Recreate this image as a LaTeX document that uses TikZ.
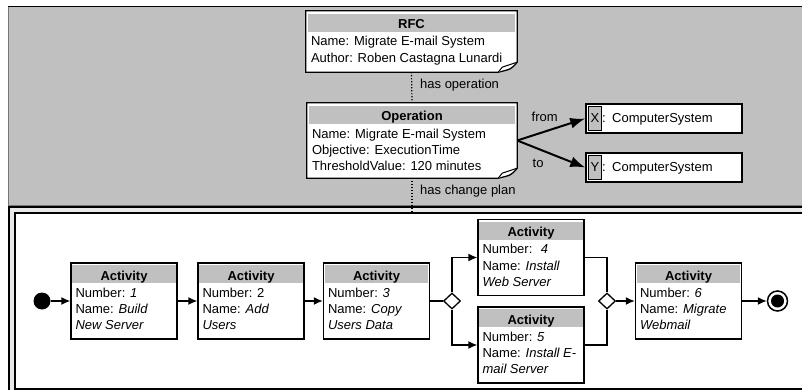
\documentclass[tikz,border=0pt]{standalone}
\usepackage{fontspec}
\setmainfont{Liberation Sans}
\usetikzlibrary{shapes.geometric,arrows.meta,calc}

\definecolor{panelgray}{RGB}{192,192,192}
\definecolor{framegray}{RGB}{232,232,232}
\definecolor{hdrgray}{RGB}{192,192,192}
\definecolor{edgegray}{RGB}{120,120,120}

% fixed first-line height so every text block starts on a known baseline
\newcommand\firstline{\rule{0pt}{10pt}}
% grey-boxed role letter in front of an instance name
\newcommand\rolemark[1]{{\setlength\fboxsep{1.5pt}\setlength\fboxrule{1.2pt}%
  \fcolorbox{black}{hdrgray}{\rule[-5.5pt]{0pt}{19.5pt}#1}}}

\tikzset{
  every node/.style={font=\fontsize{13}{16.3}\selectfont},
  box/.style={draw, fill=white, line width=1.3pt, inner sep=0pt},
  hdrtext/.style={anchor=base, inner sep=0pt, font=\fontsize{13}{16.3}\selectfont\bfseries},
  bodytext/.style={anchor=north west, align=left, inner sep=0pt},
  lbl/.style={anchor=base west, inner sep=0pt},
  flow/.style={line width=1.5pt, -{Latex[length=9pt,width=8pt]}},
  plainflow/.style={line width=1.5pt},
  assoc/.style={line width=2pt, -{Latex[length=15pt,width=11pt]}},
  link/.style={line width=1.2pt, dash pattern=on 1.2pt off 1.8pt},
  gate/.style={diamond, draw, fill=white, line width=1.3pt, aspect=1,
    minimum width=17pt, minimum height=16pt, inner sep=0pt},
  csbox/.style={draw, fill=white, line width=1.5pt, minimum width=156pt,
    minimum height=29pt, text width=152pt, align=left, inner xsep=2pt, inner ysep=0pt},
}

% activity box: name, x, y, number, name lines
\newcommand\actnode[5]{%
  \node[box, minimum width=106pt, minimum height=76pt] (#1) at (#2,#3) {};
  \fill[hdrgray] ([xshift=2pt,yshift=-3pt]#1.north west) rectangle ([xshift=-2pt,yshift=-21pt]#1.north east);
  \node[hdrtext] (#1-h) at ([yshift=-18pt]#1.north) {Activity};
  \node[bodytext] (#1-t) at ([xshift=5pt,yshift=-24.7pt]#1.north west) {\firstline Number: #4\\#5};
}

% note box with curled corner: name, x, y, width, height, title, body
\newcommand\notenode[7]{%
  \node[inner sep=0pt, minimum width=#4pt, minimum height=#5pt] (#1) at (#2,#3) {};
  \draw[fill=white, line width=1.3pt] (#1.north west) -- (#1.north east) -- ([yshift=10pt]#1.south east)
    .. controls ([xshift=-6pt,yshift=3pt]#1.south east) .. ([xshift=-19pt]#1.south east) -- (#1.south west) -- cycle;
  \draw[fill=white, line width=1pt, line join=round] ([xshift=-19pt]#1.south east) -- ([xshift=-15pt,yshift=5pt]#1.south east) -- ([yshift=10pt]#1.south east);
  \fill[hdrgray] ([xshift=2pt,yshift=-3pt]#1.north west) rectangle ([xshift=-2pt,yshift=-21pt]#1.north east);
  \node[hdrtext] (#1-h) at ([yshift=-18pt]#1.north) {#6};
  \node[bodytext] (#1-t) at ([xshift=5pt,yshift=-25pt]#1.north west) {\firstline #7};
}

\begin{document}
\begin{tikzpicture}[x=1pt,y=-1pt]
\useasboundingbox (0,0) rectangle (802,390);
\clip (0,0) rectangle (802,390);

% upper panel
\fill[panelgray] (8,6) rectangle (802,206);
\draw[edgegray, line width=0.8pt] (8.5,6.5) -- (8.5,205.5) -- (802,205.5);
\draw[line width=1.5pt] (8,6.5) -- (802,6.5);

% lower panel with double frame
\fill[framegray] (8,206) rectangle (802,390);
\draw[line width=1.5pt] (9.2,391) -- (9.2,207) -- (806,207);
\draw[line width=1.5pt, fill=white] (15,213.2) rectangle (806,389);

% change request and its operation
\notenode{rfc}{411.5}{41.5}{211}{61}{RFC}{Name: Migrate E-mail System\\Author: Roben Castagna Lunardi}
\notenode{op}{412}{140.5}{210}{75}{Operation}{Name: Migrate E-mail System\\Objective: ExecutionTime\\ThresholdValue: 120 minutes}

\draw[link] (rfc.south) -- (op.north);
\coordinate (plan) at (412,213);
\draw[link] (op.south) -- (plan);
\node[lbl] (l-op) at (420,89) {has operation};
\node[lbl] (l-plan) at (420,194) {has change plan};

% source and target systems
\node[csbox] (xs) at (664,118.5) {\rolemark{X}: ComputerSystem};
\node[csbox] (ys) at (664,167.5) {\rolemark{Y}: ComputerSystem};
\draw[assoc] (op.east) -- (xs.west);
\draw[assoc] (op.east) -- (ys.west);
\node[lbl] (l-from) at (531.5,121.7) {from};
\node[lbl] (l-to) at (532.5,167.7) {to};

% change plan workflow
\node[circle, fill=black, minimum size=17pt, inner sep=0pt] (start) at (42,301) {};
\actnode{a1}{124}{301}{\textit{1}}{Name: \textit{Build}\\\textit{New Server}}
\actnode{a2}{251}{301}{2}{Name: \textit{Add}\\\textit{Users}}
\actnode{a3}{376.5}{301}{\textit{3}}{Name: \textit{Copy}\\\textit{Users Data}}
\node[gate] (g1) at (452,301) {};
\actnode{a4}{531}{257.5}{\ \textit{4}}{Name: \textit{Install}\\\textit{Web Server}}
\actnode{a5}{531}{345}{\textit{5}}{Name: \textit{Install E-}\\\textit{mail Server}}
\node[gate] (g2) at (607,301) {};
\actnode{a6}{688.5}{301}{\textit{6}}{Name: \textit{Migrate}\\\textit{Webmail}}
\node[circle, draw, fill=white, line width=1.5pt, minimum size=20pt, inner sep=0pt] (end) at (777.5,301) {};
\node[circle, fill=black, minimum size=13pt, inner sep=0pt] (endin) at (end.center) {};

\draw[flow] (start.east) -- (a1.west);
\draw[flow] (a1.east) -- (a2.west);
\draw[flow] (a2.east) -- (a3.west);
\draw[plainflow] (a3.east) -- (g1.west);
\draw[flow] (g1.north) |- (a4.west);
\draw[flow] (g1.south) |- (a5.west);
\draw[plainflow] (a4.east) -| (g2.north);
\draw[plainflow] (a5.east) -| (g2.south);
\draw[flow] (g2.east) -- (a6.west);
\draw[flow] (a6.east) -- (end.west);
\end{tikzpicture}
\end{document}
